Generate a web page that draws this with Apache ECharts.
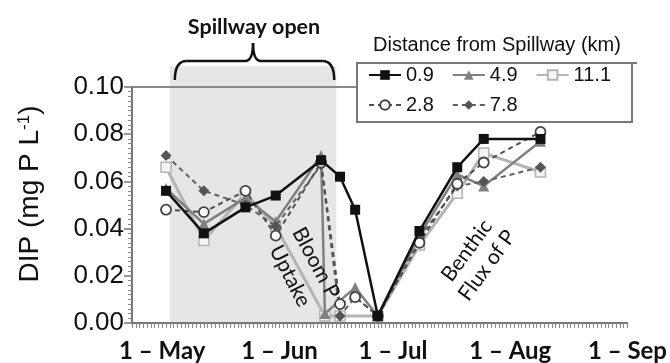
<!DOCTYPE html>
<html>
<head>
<meta charset="utf-8">
<script src="https://cdn.jsdelivr.net/npm/echarts@6/dist/echarts.min.js"></script>
<style>html,body{margin:0;padding:0;background:#fff}#c{width:670px;height:363px}</style>
</head>
<body>
<div id="c"></div>
<script>
// ---- data ----
const axisStart = '2011-04-23';
const axisEnd = '2011-09-01';
const tickDates = ['2011-05-01', '2011-06-01', '2011-07-01', '2011-08-01', '2011-09-01'];
const tickLabels = ['1 – May', '1 – Jun', '1 – Jul', '1 – Aug', '1 – Sep'];
const spillwayOpen = ['2011-05-03', '2011-06-16'];
const sampleDates = ['2011-05-02', '2011-05-12', '2011-05-23', '2011-05-31', '2011-06-12', '2011-06-13',
  '2011-06-17', '2011-06-21', '2011-06-27', '2011-07-08', '2011-07-18', '2011-07-25', '2011-08-09'];
const dip09 = [0.056, 0.038, 0.049, 0.054, 0.069, null, 0.062, 0.048, 0.003, 0.039, 0.066, 0.078, 0.078];
const dip28 = [0.048, 0.047, 0.056, 0.037, 0.068, null, 0.008, 0.011, 0.003, 0.034, 0.059, 0.068, 0.081];
const dip49 = [0.057, 0.042, 0.053, 0.043, 0.071, 0.004, null, 0.015, 0.003, 0.037, 0.063, 0.058, 0.077];
const dip78 = [0.071, 0.056, 0.050, 0.041, 0.067, null, 0.003, 0.011, 0.003, 0.036, 0.058, 0.060, 0.066];
const dip111 = [0.066, 0.035, 0.055, 0.041, null, 0.003, 0.003, null, 0.003, 0.033, 0.055, 0.072, 0.064];
const yTicks = [0, 0.02, 0.04, 0.06, 0.08, 0.10];

// ---- helpers ----
const DAY = 86400000;
function day(d) { return Math.round((Date.parse(d) - Date.parse(axisStart)) / DAY); }
const labelMap = {};
tickDates.forEach((d, i) => { labelMap[day(d)] = tickLabels[i]; });
function pairs(vals) { return sampleDates.map((d, i) => [day(d), vals[i]]); }

const chart = echarts.init(document.getElementById('c'), null, { renderer: 'canvas' });

function mk(name, vals, color, lineType, width, symbol, size, fill, borderColor, borderWidth, z) {
  return {
    name: name, type: 'line', data: pairs(vals).filter(p => p[1] !== null),
    lineStyle: { color: color, width: width, type: lineType },
    symbol: symbol, symbolSize: size,
    itemStyle: { color: fill, borderColor: borderColor, borderWidth: borderWidth },
    z: z, connectNulls: true
  };
}

const legendText = { fontFamily: 'Liberation Sans', fontSize: 20, color: '#111' };

const option = {
  animation: false,
  backgroundColor: '#fff',
  grid: { left: 132, right: 35, top: 87, bottom: 40 },
  xAxis: {
    type: 'value', min: 0, max: day(axisEnd), interval: 1,
    axisLine: { lineStyle: { color: '#777', width: 2 } },
    axisTick: { show: true, length: 5, lineStyle: { color: '#888', width: 1 } },
    splitLine: { show: false },
    axisLabel: {
      formatter: v => labelMap[v] || '',
      fontFamily: 'Lato', fontWeight: 'bold', fontSize: 24, color: '#111', margin: 16
    }
  },
  yAxis: {
    type: 'value', min: yTicks[0], max: yTicks[yTicks.length - 1], interval: 0.02,
    name: '{a|DIP (mg P L}{s|-1}{a|)}', nameLocation: 'middle', nameGap: 88, nameRotate: 90,
    nameTextStyle: {
      padding: [0, 0, 0, 22],
      rich: {
        a: { fontFamily: 'Liberation Sans', fontSize: 28, color: '#111' },
        s: { fontFamily: 'Liberation Sans', fontSize: 17, color: '#111', verticalAlign: 'top', padding: [0, 0, 10, 0] }
      }
    },
    axisLine: { show: true, lineStyle: { color: '#777', width: 2 } },
    axisTick: { show: true, length: 8, lineStyle: { color: '#777', width: 1.5 } },
    minorTick: { show: true, splitNumber: 10, length: 4, lineStyle: { color: '#888', width: 1 } },
    splitLine: { show: false },
    axisLabel: { formatter: v => v.toFixed(2), fontFamily: 'Liberation Sans', fontSize: 26, color: '#111', margin: 8 }
  },
  legend: [
    { data: ['0.9', '4.9', '11.1'], left: 368, top: 65, itemWidth: 32, itemHeight: 12, itemGap: 18, padding: 0,
      textStyle: legendText, z: 20 },
    { data: ['2.8', '7.8'], left: 368, top: 95, itemWidth: 32, itemHeight: 12, itemGap: 18, padding: 0,
      textStyle: legendText, z: 20 }
  ],
  series: [
    mk('11.1', dip111, '#b4b4b4', 'solid', 3, 'rect', 10, '#f4f4f4', '#b4b4b4', 1.5, 3),
    mk('4.9', dip49, '#808080', 'solid', 2.5, 'triangle', 11, '#808080', '#808080', 0, 4),
    mk('7.8', dip78, '#606060', [5, 4], 2, 'diamond', 11, '#555', '#555', 0, 5),
    mk('2.8', dip28, '#505050', [5, 4], 2, 'circle', 10, '#fff', '#444', 1.8, 6),
    mk('0.9', dip09, '#111', 'solid', 2.5, 'rect', 10, '#111', '#111', 0, 7)
  ]
};
chart.setOption(option);

// annotations (shaded spillway period tied to the axes)
const x0 = chart.convertToPixel({ xAxisIndex: 0 }, day(spillwayOpen[0]));
const x1 = chart.convertToPixel({ xAxisIndex: 0 }, day(spillwayOpen[1]));
const yBase = chart.convertToPixel({ yAxisIndex: 0 }, 0);
const yTop = chart.convertToPixel({ yAxisIndex: 0 }, 0.10);
const xLeft = chart.convertToPixel({ xAxisIndex: 0 }, 0);
const bm = (x0 + x1) / 2;
const braceStyle = { fill: 'none', stroke: '#111', lineWidth: 2.5 };

chart.setOption({
  graphic: [
    { type: 'rect', z: 0, silent: true, shape: { x: x0, y: 66, width: x1 - x0, height: yBase - 66 },
      style: { fill: '#e6e6e6' } },
    { type: 'line', z: 1, silent: true, shape: { x1: xLeft, y1: yTop, x2: 357, y2: yTop },
      style: { stroke: '#888', lineWidth: 2 } },
    { type: 'rect', z: 1, silent: true, shape: { x: 357, y: 63, width: 275, height: 59 },
      style: { fill: '#fff', stroke: '#777', lineWidth: 2 } },
    { type: 'line', z: 1, silent: true, shape: { x1: 357, y1: 63, x2: 637, y2: 63 },
      style: { stroke: '#777', lineWidth: 2 } },
    { type: 'text', z: 11, x: 497, y: 45, style: { text: 'Distance from Spillway (km)', fontFamily: 'Liberation Sans',
      fontSize: 20, fill: '#111', align: 'center', verticalAlign: 'middle' } },
    { type: 'bezierCurve', z: 11, silent: true, shape: { x1: x0 + 5, y1: 80, cpx1: x0 + 5, cpy1: 61, x2: x0 + 17, y2: 61 }, style: braceStyle },
    { type: 'line', z: 11, silent: true, shape: { x1: x0 + 17, y1: 61, x2: bm - 8, y2: 61 }, style: braceStyle },
    { type: 'bezierCurve', z: 11, silent: true, shape: { x1: bm - 8, y1: 61, cpx1: bm, cpy1: 61, x2: bm, y2: 43 }, style: braceStyle },
    { type: 'bezierCurve', z: 11, silent: true, shape: { x1: bm + 8, y1: 61, cpx1: bm, cpy1: 61, x2: bm, y2: 43 }, style: braceStyle },
    { type: 'line', z: 11, silent: true, shape: { x1: bm + 8, y1: 61, x2: x1 - 14, y2: 61 }, style: braceStyle },
    { type: 'bezierCurve', z: 11, silent: true, shape: { x1: x1 - 14, y1: 61, cpx1: x1 - 2, cpy1: 61, x2: x1 - 2, y2: 80 }, style: braceStyle },
    { type: 'text', z: 11, x: bm + 1, y: 27, style: { text: 'Spillway open', fontFamily: 'Lato', fontWeight: 'bold',
      fontSize: 21.5, fill: '#111', align: 'center', verticalAlign: 'middle' } },
    { type: 'text', z: 11, x: 316, y: 263, rotation: -1.08, style: { text: 'Bloom P', fontFamily: 'Lato',
      fontSize: 21, fill: '#111', align: 'center', verticalAlign: 'middle' } },
    { type: 'text', z: 11, x: 290, y: 276, rotation: -1.1, style: { text: 'Uptake', fontFamily: 'Lato',
      fontSize: 21, fill: '#111', align: 'center', verticalAlign: 'middle' } },
    { type: 'text', z: 11, x: 477, y: 258, rotation: 0.94, style: { text: 'Benthic\nFlux of P', fontFamily: 'Lato',
      fontSize: 21, lineHeight: 25, fill: '#111', align: 'center', verticalAlign: 'middle' } }
  ]
});
</script>
</body>
</html>
